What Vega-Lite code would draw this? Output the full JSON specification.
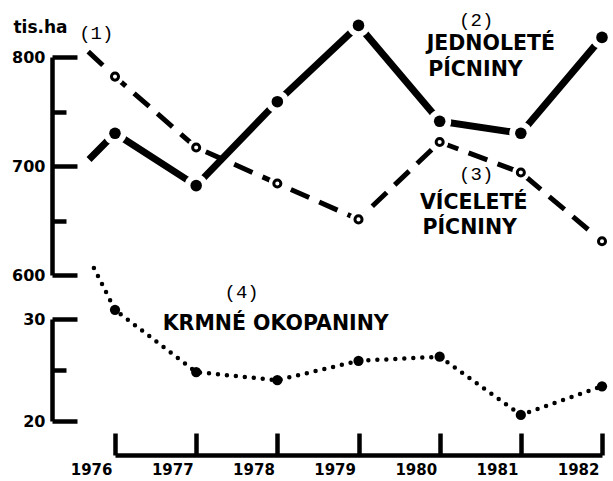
{
  "$schema": "https://vega.github.io/schema/vega-lite/v6.json",
  "width": 561,
  "height": 455,
  "autosize": {"type": "none"},
  "padding": {"left": 52, "top": 0, "right": 0, "bottom": 26},
  "background": "white",
  "config": {"view": {"stroke": null}, "axis": {"grid": false}},
  "datasets": {
    "series": [
      {"serie": "J", "year": 1975.68, "value": 706},
      {"serie": "J", "year": 1976, "value": 730},
      {"serie": "J", "year": 1977, "value": 682},
      {"serie": "J", "year": 1978, "value": 759},
      {"serie": "J", "year": 1979, "value": 829},
      {"serie": "J", "year": 1980, "value": 741},
      {"serie": "J", "year": 1981, "value": 730},
      {"serie": "J", "year": 1982, "value": 818},
      {"serie": "V", "year": 1975.67, "value": 805},
      {"serie": "V", "year": 1976, "value": 782},
      {"serie": "V", "year": 1977, "value": 717},
      {"serie": "V", "year": 1978, "value": 684},
      {"serie": "V", "year": 1979, "value": 651},
      {"serie": "V", "year": 1980, "value": 722},
      {"serie": "V", "year": 1981, "value": 694},
      {"serie": "V", "year": 1982, "value": 631},
      {"serie": "K", "year": 1975.74, "value": 35.0},
      {"serie": "K", "year": 1976, "value": 30.9},
      {"serie": "K", "year": 1977, "value": 24.8},
      {"serie": "K", "year": 1978, "value": 24.0},
      {"serie": "K", "year": 1979, "value": 25.9},
      {"serie": "K", "year": 1980, "value": 26.3},
      {"serie": "K", "year": 1981, "value": 20.6},
      {"serie": "K", "year": 1982, "value": 23.4}
    ],
    "notesTop": [
      {"label": "(1)", "kind": "num", "year": 1975.77, "value": 822},
      {"label": "(2)", "kind": "num", "year": 1980.45, "value": 833.9},
      {"label": "JEDNOLETÉ", "kind": "name", "year": 1980.63, "value": 811.9},
      {"label": "PÍCNINY", "kind": "name", "year": 1980.44, "value": 788.1},
      {"label": "(3)", "kind": "num", "year": 1980.45, "value": 692.7},
      {"label": "VÍCELETÉ", "kind": "name", "year": 1980.42, "value": 666.1},
      {"label": "PÍCNINY", "kind": "name", "year": 1980.37, "value": 643.1}
    ],
    "notesBottom": [
      {"label": "(4)", "kind": "num", "year": 1977.56, "value": 32.65},
      {"label": "KRMNÉ OKOPANINY", "kind": "name", "year": 1977.98, "value": 29.5}
    ]
  },
  "layer": [
    {
      "data": {"name": "series"},
      "encoding": {
        "x": {
          "field": "year", "type": "quantitative",
          "scale": {"domain": [1976, 1982], "range": [63, 550], "nice": false, "zero": false},
          "axis": {
            "title": null, "values": [1976, 1977, 1978, 1979, 1980, 1981, 1982], "format": "d",
            "domainColor": "black", "domainWidth": 4.5, "tickColor": "black", "tickWidth": 4.5, "tickSize": -22,
            "labelFont": "DejaVu Sans", "labelFontWeight": "bold", "labelFontSize": 15, "labelColor": "black",
            "labelAlign": "right", "labelOffset": -3, "labelBaseline": "top", "labelPadding": 29
          }
        },
        "y": {
          "field": "value", "type": "quantitative",
          "scale": {"domain": [600, 800], "range": [275, 57], "nice": false, "zero": false},
          "axis": {
            "values": [600, 700, 800],
            "tickSize": -25,
            "domainColor": "black", "domainWidth": 4.5, "tickColor": "black", "tickWidth": 4.5,
            "labelFont": "DejaVu Sans", "labelFontWeight": "bold", "labelFontSize": 16, "labelColor": "black",
            "labelPadding": 32, "labelBaseline": "middle",
            "title": "tis.ha", "titleAngle": 0, "titleX": -12, "titleY": 27, "titleAlign": "center", "titleBaseline": "middle",
            "titleFont": "DejaVu Sans", "titleFontWeight": "bold", "titleFontSize": 17, "titleColor": "black"
          }
        }
      },
      "layer": [
        {"transform": [{"filter": "datum.serie === 'V'"}], "mark": {"type": "line", "color": "black", "strokeWidth": 5, "strokeDash": [20, 11]}},
        {"transform": [{"filter": "datum.serie === 'J'"}], "mark": {"type": "line", "color": "black", "strokeWidth": 7}},
        {"transform": [{"filter": "datum.serie === 'J' && floor(datum.year) === datum.year"}], "mark": {"type": "point", "shape": "circle", "filled": true, "color": "white", "opacity": 1, "size": 530}},
        {"transform": [{"filter": "datum.serie === 'V' && floor(datum.year) === datum.year"}], "mark": {"type": "point", "shape": "circle", "filled": true, "color": "white", "opacity": 1, "size": 300}},
        {"transform": [{"filter": "datum.serie === 'J' && floor(datum.year) === datum.year"}], "mark": {"type": "point", "shape": "circle", "filled": true, "color": "black", "opacity": 1, "size": 133}},
        {"transform": [{"filter": "datum.serie === 'V' && floor(datum.year) === datum.year"}], "mark": {"type": "point", "shape": "circle", "filled": false, "fill": "white", "stroke": "black", "strokeWidth": 3, "opacity": 1, "size": 50}},
        {"data": {"name": "notesTop"}, "transform": [{"filter": "datum.kind === 'num'"}], "mark": {"type": "text", "font": "Liberation Mono", "fontSize": 19, "color": "black", "align": "center", "baseline": "middle"}, "encoding": {"text": {"field": "label"}}},
        {"data": {"name": "notesTop"}, "transform": [{"filter": "datum.kind === 'name'"}], "mark": {"type": "text", "font": "DejaVu Sans", "fontWeight": "bold", "fontSize": 20.5, "color": "black", "align": "center", "baseline": "middle"}, "encoding": {"text": {"field": "label"}}}
      ]
    },
    {
      "data": {"name": "series"},
      "encoding": {
        "x": {
          "field": "year", "type": "quantitative",
          "scale": {"domain": [1976, 1982], "range": [63, 550], "nice": false, "zero": false},
          "axis": {
            "title": null, "values": [1976, 1977, 1978, 1979, 1980, 1981, 1982], "format": "d",
            "domainColor": "black", "domainWidth": 4.5, "tickColor": "black", "tickWidth": 4.5, "tickSize": -22,
            "labelFont": "DejaVu Sans", "labelFontWeight": "bold", "labelFontSize": 15, "labelColor": "black",
            "labelAlign": "right", "labelOffset": -3, "labelBaseline": "top", "labelPadding": 29
          }
        },
        "y": {
          "field": "value", "type": "quantitative",
          "scale": {"domain": [20, 30], "range": [421, 319], "nice": false, "zero": false},
          "axis": {
            "orient": "left", "title": null,
            "values": [20, 30],
            "tickSize": -25,
            "domainColor": "black", "domainWidth": 4.5, "tickColor": "black", "tickWidth": 4.5,
            "labelFont": "DejaVu Sans", "labelFontWeight": "bold", "labelFontSize": 16, "labelColor": "black",
            "labelPadding": 32, "labelBaseline": "middle"
          }
        }
      },
      "layer": [
        {"transform": [{"filter": "datum.serie === 'K'"}], "mark": {"type": "line", "color": "black", "strokeWidth": 4.5, "strokeDash": [0, 9], "strokeCap": "round"}},
        {"transform": [{"filter": "datum.serie === 'K' && floor(datum.year) === datum.year"}], "mark": {"type": "point", "shape": "circle", "filled": true, "color": "black", "opacity": 1, "size": 105}},
        {"data": {"name": "notesBottom"}, "transform": [{"filter": "datum.kind === 'num'"}], "mark": {"type": "text", "font": "Liberation Mono", "fontSize": 19, "color": "black", "align": "center", "baseline": "middle"}, "encoding": {"text": {"field": "label"}}},
        {"data": {"name": "notesBottom"}, "transform": [{"filter": "datum.kind === 'name'"}], "mark": {"type": "text", "font": "DejaVu Sans", "fontWeight": "bold", "fontSize": 20.5, "color": "black", "align": "center", "baseline": "middle"}, "encoding": {"text": {"field": "label"}}}
      ]
    },
    {
      "data": {"name": "series"},
      "transform": [{"filter": "false"}],
      "mark": {"type": "point", "opacity": 0},
      "encoding": {
        "y": {
          "field": "value", "type": "quantitative",
          "scale": {"domain": [600, 800], "range": [275, 57], "nice": false, "zero": false},
          "axis": {
            "orient": "left", "title": null, "values": [650, 750], "tickSize": -14,
            "domain": false, "labels": false, "tickColor": "black", "tickWidth": 4.5
          }
        }
      }
    },
    {
      "data": {"name": "series"},
      "transform": [{"filter": "false"}],
      "mark": {"type": "point", "opacity": 0},
      "encoding": {
        "y": {
          "field": "value", "type": "quantitative",
          "scale": {"domain": [20, 30], "range": [421, 319], "nice": false, "zero": false},
          "axis": {
            "orient": "left", "title": null, "values": [25], "tickSize": -14,
            "domain": false, "labels": false, "tickColor": "black", "tickWidth": 4.5
          }
        }
      }
    }
  ],
  "resolve": {"scale": {"y": "independent"}, "axis": {"y": "independent"}}
}
